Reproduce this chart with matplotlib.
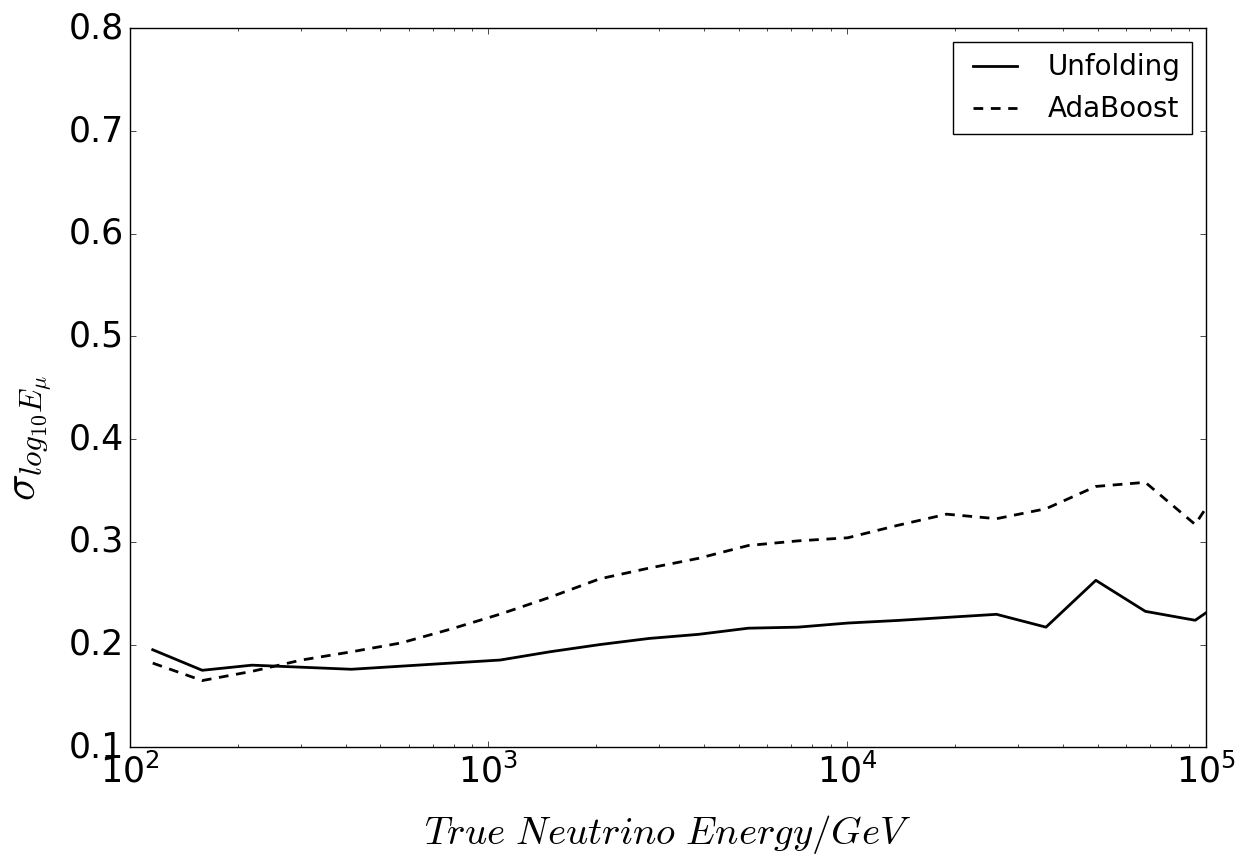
import numpy as np
import matplotlib
matplotlib.use("Agg")
import matplotlib.pyplot as plt

# energías (log10 GeV) de los centros de los bins
log_e = [2.064, 2.202, 2.341, 2.479, 2.618, 2.756, 2.894, 3.033, 3.171, 3.310,
         3.448, 3.586, 3.725, 3.863, 4.002, 4.140, 4.278, 4.417, 4.555, 4.694,
         4.832, 4.971, 5.109]

# resolución, unfolding
sigma_unfolding = [0.195, 0.175, 0.180, 0.178, 0.176, 0.179, 0.182, 0.185, 0.193, 0.200,
                   0.206, 0.210, 0.216, 0.217, 0.221, 0.2235, 0.2265, 0.2295, 0.217, 0.2626,
                   0.2324, 0.2237, 0.257]

# resolución, AdaBoost
sigma_adaboost = [0.182, 0.165, 0.174, 0.185, 0.193, 0.2016, 0.215, 0.2297, 0.246, 0.264,
                  0.2745, 0.284, 0.2965, 0.301, 0.304, 0.316, 0.327, 0.3226, 0.3323, 0.354,
                  0.358, 0.317, 0.39]

energia = 10 ** np.array(log_e)

plt.style.use("classic")
plt.rcParams["figure.facecolor"] = "white"
plt.rcParams["savefig.facecolor"] = "white"
plt.rcParams["lines.scale_dashes"] = False

fig = plt.figure(figsize=(12.48, 8.59), dpi=100)
ax = fig.add_axes([0.104, 0.130, 0.862, 0.837])

ax.plot(energia, sigma_unfolding, color="black", linestyle="-", linewidth=2, label="Unfolding")
ax.plot(energia, sigma_adaboost, color="black", linestyle="--", linewidth=2,
        dashes=(7, 5.5), label="AdaBoost")

ax.set_xscale("log")
ax.set_xlim(1e2, 1e5)
ax.set_ylim(0.1, 0.8)
ax.set_yticks(np.arange(0.1, 0.81, 0.1))
ax.tick_params(labelsize=25)

ax.set_xlabel(r"$True\ Neutrino\ Energy/GeV$", fontsize=28, labelpad=17)
ax.set_ylabel(r"$\sigma_{log_{10}E_{\mu}}$", fontsize=32)
ax.yaxis.set_label_coords(-0.07, 0.43)

ax.legend(loc="upper right", fontsize=20, handlelength=2.2)

fig.savefig("out.png", dpi=100)
